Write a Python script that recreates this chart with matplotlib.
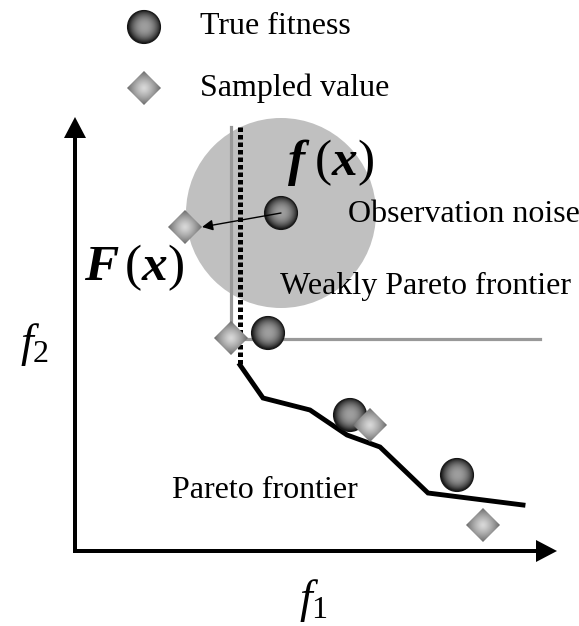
import numpy as np
import matplotlib.pyplot as plt
from matplotlib.patches import Circle, Polygon, FancyArrow

plt.rcParams['font.family'] = ['Liberation Serif', 'DejaVu Serif']
plt.rcParams['mathtext.fontset'] = 'custom'
plt.rcParams['mathtext.rm'] = 'Liberation Serif'
plt.rcParams['mathtext.it'] = 'Liberation Serif:italic'
plt.rcParams['mathtext.bf'] = 'Liberation Serif:bold'
plt.rcParams['mathtext.bfit'] = 'Liberation Serif:italic:bold'

# objective space points (f1, f2)
true_f1 = [206, 193, 275, 382]
true_f2 = [338, 218, 136, 76]
sampled_f1 = [110, 156, 295, 408]
sampled_f2 = [324, 213, 126, 26]

pareto_f1 = [165, 188, 235, 272, 305, 353, 448]
pareto_f2 = [186, 153, 141, 116, 104, 58, 46]

weak_f1 = [156, 156, 465]
weak_f2 = [424, 212, 212]
dotted_f1 = [165, 165]
dotted_f2 = [424, 186]

noise_radius = 95
R_BALL = 16.5
H_DIAMOND = 17


def shaded(ax, patch, cx, cy, r, inner, outer, z, power):
    ax.add_patch(patch)
    yy, xx = np.mgrid[-1:1:80j, -1:1:80j]
    d = np.clip(np.hypot(xx, yy), 0, 1)
    img = inner + (outer - inner) * d ** power
    im = ax.imshow(img, cmap='gray', vmin=0, vmax=1, extent=(cx - r, cx + r, cy - r, cy + r),
                   interpolation='bilinear', zorder=z)
    im.set_clip_path(patch)


def ball(ax, x, y):
    c = Circle((x, y), R_BALL, facecolor='none', edgecolor='#151515', lw=0.8, zorder=4.1)
    shaded(ax, c, x, y, R_BALL, 0.62, 0.1, 4, 2.2)


def diamond(ax, x, y):
    h = H_DIAMOND
    p = Polygon([(x - h, y), (x, y + h), (x + h, y), (x, y - h)], closed=True,
                facecolor='none', edgecolor='none', zorder=5.1)
    shaded(ax, p, x, y, h, 0.85, 0.42, 5, 1.3)


fig = plt.figure(figsize=(5.79, 6.26), dpi=100)
ax = fig.add_axes([0, 0, 1, 1])

# observation noise
ax.add_patch(Circle((true_f1[0], true_f2[0]), noise_radius, color='#c0c0c0', lw=0, zorder=1))

ax.plot(weak_f1, weak_f2, color='#999999', lw=2.3, zorder=2, solid_joinstyle='miter')
ax.plot(dotted_f1, dotted_f2, color='k', lw=3.6, linestyle=(0, (0.9, 0.6)),
        dash_capstyle='butt', zorder=2.5)
ax.plot(pareto_f1, pareto_f2, color='k', lw=3.5, zorder=3, solid_joinstyle='miter')

for x, y in zip(true_f1, true_f2):
    ball(ax, x, y)
for x, y in zip(sampled_f1, sampled_f2):
    diamond(ax, x, y)

ax.annotate('', xy=(sampled_f1[0] + H_DIAMOND, sampled_f2[0]), xytext=(true_f1[0], true_f2[0]),
            arrowprops=dict(arrowstyle='-|>', color='k', lw=1, mutation_scale=16,
                            shrinkA=0, shrinkB=0), zorder=6)

# axes arrows
ax.add_patch(FancyArrow(0, -2, 0, 436, width=4, head_width=22, head_length=21,
                        length_includes_head=True, color='k', lw=0, zorder=3))
ax.add_patch(FancyArrow(-2, 0, 484, 0, width=4, head_width=22, head_length=21,
                        length_includes_head=True, color='k', lw=0, zorder=3))

# legend
ball(ax, 69, 524)
diamond(ax, 69, 463)
ax.text(125, 524, 'True fitness', fontsize=23, va='center', ha='left')
ax.text(125, 463, 'Sampled value', fontsize=23, va='center', ha='left')

ax.text(273, 336, 'Observation noise', fontsize=23, va='center', ha='left', zorder=7)
ax.text(205, 265, 'Weakly Pareto frontier', fontsize=23, va='center', ha='left', zorder=7)
ax.text(97, 61, 'Pareto frontier', fontsize=23, va='center', ha='left', zorder=7)

ax.text(256, 388, r'$\mathbfit{f}\;(\mathbfit{x})$', fontsize=37, va='center', ha='center', zorder=7)
ax.text(59, 283, r'$\mathbfit{F}\,(\mathbfit{x})$', fontsize=37, va='center', ha='center', zorder=7)

ax.text(-41, 207, r'$f_2$', fontsize=33, va='center', ha='center')
ax.text(238, -50, r'$f_1$', fontsize=33, va='center', ha='center')

ax.set_xlim(-75, 504)
ax.set_ylim(-75, 551)
ax.set_aspect('equal')
ax.axis('off')

fig.savefig('out.png', dpi=100)
